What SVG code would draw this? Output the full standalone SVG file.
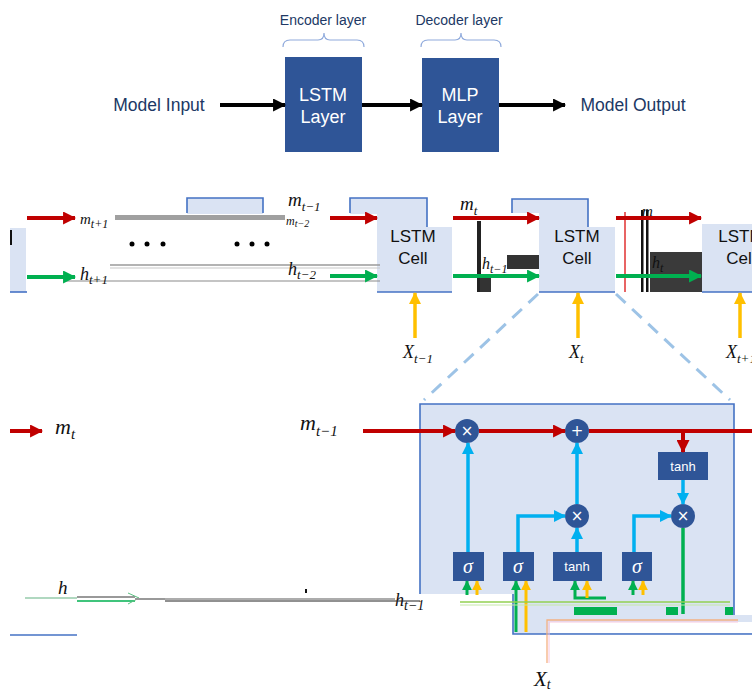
<svg xmlns="http://www.w3.org/2000/svg" width="752" height="690" viewBox="0 0 752 690">
  <defs>
    <style>
      .navy-label { font-family: "Liberation Sans", Arial, sans-serif; fill: #203864; }
      .box-label { font-family: "Liberation Sans", Arial, sans-serif; fill: #ffffff; font-size: 18px; text-anchor: middle; }
      .cell-label { font-family: "Liberation Sans", Arial, sans-serif; fill: #111111; font-size: 17px; text-anchor: middle; }
      .math { font-family: "Liberation Serif", "Times New Roman", serif; font-style: italic; fill: #111111; }
      .sub { font-style: italic; }
      .op { font-family: "DejaVu Sans", sans-serif; fill: #ffffff; font-size: 15px; text-anchor: middle; }
      .gate { font-family: "Liberation Serif", serif; font-style: italic; fill: #ffffff; font-size: 20px; text-anchor: middle; }
      .gate-t { font-family: "Liberation Sans", Arial, sans-serif; fill: #ffffff; font-size: 13px; text-anchor: middle; }
      .navy-box { fill: #2f5597; }
      .cell { fill: #dae3f3; }
      .bracket { fill: none; stroke: #8faadc; stroke-width: 1.2; }
      .blk { stroke: #000000; stroke-width: 4; fill: none; }
      .red { stroke: #c00000; stroke-width: 4; fill: none; }
      .grn { stroke: #00b050; stroke-width: 4; fill: none; }
      .yel { stroke: #ffc000; stroke-width: 3.5; fill: none; }
      .sky { stroke: #00b0f0; stroke-width: 3.5; fill: none; }
      .edge { stroke: #4472c4; stroke-width: 1.6; fill: none; }
      .dash { stroke: #9dc3e6; stroke-width: 3; stroke-dasharray: 13 9; fill: none; }
    </style>
    <marker id="ah-blk" markerUnits="userSpaceOnUse" viewBox="0 0 12 12" refX="11" refY="6" markerWidth="14" markerHeight="13" orient="auto"><path d="M0,0 L12,6 L0,12 z" fill="#000000"/></marker>
    <marker id="ah-red" markerUnits="userSpaceOnUse" viewBox="0 0 12 12" refX="11" refY="6" markerWidth="13" markerHeight="13" orient="auto"><path d="M0,0 L12,6 L0,12 z" fill="#c00000"/></marker>
    <marker id="ah-grn" markerUnits="userSpaceOnUse" viewBox="0 0 12 12" refX="11" refY="6" markerWidth="13" markerHeight="13" orient="auto"><path d="M0,0 L12,6 L0,12 z" fill="#00b050"/></marker>
    <marker id="ah-yel" markerUnits="userSpaceOnUse" viewBox="0 0 12 12" refX="11" refY="6" markerWidth="12" markerHeight="12" orient="auto"><path d="M0,0 L12,6 L0,12 z" fill="#ffc000"/></marker>
    <marker id="ah-sky" markerUnits="userSpaceOnUse" viewBox="0 0 12 12" refX="11" refY="6" markerWidth="12" markerHeight="12" orient="auto"><path d="M0,0 L12,6 L0,12 z" fill="#00b0f0"/></marker>
    <marker id="ah-sgrn" markerUnits="userSpaceOnUse" viewBox="0 0 12 12" refX="11" refY="6" markerWidth="10" markerHeight="10" orient="auto"><path d="M0,0 L12,6 L0,12 z" fill="#00b050"/></marker>
    <marker id="ah-syel" markerUnits="userSpaceOnUse" viewBox="0 0 12 12" refX="11" refY="6" markerWidth="10" markerHeight="10" orient="auto"><path d="M0,0 L12,6 L0,12 z" fill="#ffc000"/></marker>
  </defs>

  <rect width="752" height="690" fill="#ffffff"/>

  <!-- ===== Model overview ===== -->
  <g id="encoder-tag">
    <text class="navy-label" x="323" y="25" font-size="14" text-anchor="middle">Encoder layer</text>
    <path class="bracket" d="M283,47 Q283,40 290,40 H318 Q324,40 324,33 Q324,40 330,40 H357 Q364,40 364,47"/>
  </g>
  <g id="decoder-tag">
    <text class="navy-label" x="459" y="25" font-size="14" text-anchor="middle">Decoder layer</text>
    <path class="bracket" d="M421,47 Q421,40 428,40 H455 Q461,40 461,33 Q461,40 467,40 H494 Q501,40 501,47"/>
  </g>
  <g id="model-input">
    <text class="navy-label" x="159" y="111" font-size="17.5" text-anchor="middle">Model Input</text>
  </g>
  <g id="lstm-layer">
    <rect class="navy-box" x="285" y="57" width="77" height="95"/>
    <text class="box-label" x="323" y="101">LSTM</text>
    <text class="box-label" x="323" y="123">Layer</text>
  </g>
  <g id="mlp-layer">
    <rect class="navy-box" x="422" y="58" width="77" height="94"/>
    <text class="box-label" x="460" y="101">MLP</text>
    <text class="box-label" x="460" y="123">Layer</text>
  </g>
  <g id="model-output">
    <text class="navy-label" x="633" y="111" font-size="17.5" text-anchor="middle">Model Output</text>
  </g>

  <!-- ===== Unrolled chain ===== -->
  <g id="cell-prev2">
    <rect class="cell" x="10" y="228" width="16" height="64"/>
    <line class="edge" x1="10" y1="292" x2="27" y2="292"/>
    <rect x="10" y="230" width="2" height="15" fill="#111"/>
  </g>
  <g id="ghost-box">
    <rect class="cell" x="187" y="198" width="76" height="16"/>
    <path class="edge" d="M187,213 V198 H263 V213"/>
  </g>
  <g id="cell-tm1">
    <rect class="cell" x="350" y="198" width="27" height="16"/>
    <rect class="cell" x="377" y="198" width="50" height="94"/>
    <rect class="cell" x="427" y="227" width="25" height="65"/>
    <path class="edge" d="M350,213 V198 H427 V227"/>
    <line class="edge" x1="377" y1="292" x2="452" y2="292"/>
    <text class="cell-label" x="413" y="242">LSTM</text>
    <text class="cell-label" x="413" y="264">Cell</text>
  </g>
  <g id="cell-t">
    <rect class="cell" x="512" y="199" width="27" height="14"/>
    <rect class="cell" x="539" y="199" width="49" height="93"/>
    <rect class="cell" x="588" y="227" width="27" height="65"/>
    <path class="edge" d="M512,213 V199 H588 V227"/>
    <line class="edge" x1="539" y1="292" x2="615" y2="292"/>
    <text class="cell-label" x="577" y="242">LSTM</text>
    <text class="cell-label" x="577" y="264">Cell</text>
  </g>
  <g id="cell-tp1">
    <rect class="cell" x="702" y="224" width="50" height="68"/>
    <line class="edge" x1="702" y1="292" x2="752" y2="292"/>
    <text class="cell-label" x="741" y="242">LSTM</text>
    <text class="cell-label" x="741" y="264">Cell</text>
  </g>

  <!-- cluttered strokes between the chain cells -->
  <g id="chain-clutter">
    <rect x="115" y="215" width="170" height="5" fill="#a0a0a0"/>
    <line x1="110" y1="265" x2="380" y2="265" stroke="#9a9a9a" stroke-width="1.5"/>
    <line x1="110" y1="268" x2="380" y2="268" stroke="#c8c8c8" stroke-width="1.2"/>
    <line x1="65" y1="281" x2="380" y2="281" stroke="#8a8a8a" stroke-width="1.2"/>
    <rect x="477" y="221" width="4" height="71" fill="#222"/>
    <rect x="480" y="277" width="11" height="15" fill="#333"/>
    <rect x="507" y="255" width="32" height="14" fill="#333"/>
    <line x1="625" y1="212" x2="625" y2="292" stroke="#e03030" stroke-width="1.5"/>
    <rect x="641" y="210" width="2.5" height="82" fill="#111"/>
    <rect x="646" y="210" width="2.5" height="82" fill="#111"/>
    <rect x="650" y="252" width="52" height="40" fill="#3a3a3a"/>
  </g>

  <g id="ellipsis">
    <circle cx="132" cy="244" r="2.5" fill="#000"/>
    <circle cx="147" cy="244" r="2.5" fill="#000"/>
    <circle cx="163" cy="244" r="2.5" fill="#000"/>
    <circle cx="237" cy="244" r="2.5" fill="#000"/>
    <circle cx="252" cy="244" r="2.5" fill="#000"/>
    <circle cx="267" cy="244" r="2.5" fill="#000"/>
  </g>

  <!-- ===== Connectors ===== -->
  <g id="connectors">
    <!-- overview -->
    <line class="blk" x1="220" y1="105" x2="285" y2="105" marker-end="url(#ah-blk)"/>
    <line class="blk" x1="362" y1="105" x2="422" y2="105" marker-end="url(#ah-blk)"/>
    <line class="blk" x1="499" y1="105" x2="565" y2="105" marker-end="url(#ah-blk)"/>

    <!-- cell state path -->
    <line class="red" x1="27" y1="218" x2="75" y2="218" marker-end="url(#ah-red)"/>
    <line class="red" x1="330" y1="218" x2="377" y2="218" marker-end="url(#ah-red)"/>
    <line class="red" x1="453" y1="218" x2="539" y2="218" marker-end="url(#ah-red)"/>
    <line class="red" x1="616" y1="218" x2="701" y2="218" marker-end="url(#ah-red)"/>

    <!-- hidden state path -->
    <line class="grn" x1="27" y1="277" x2="75" y2="277" marker-end="url(#ah-grn)"/>
    <line class="grn" x1="330" y1="276" x2="377" y2="276" marker-end="url(#ah-grn)"/>
    <line class="grn" x1="453" y1="276" x2="539" y2="276" marker-end="url(#ah-grn)"/>
    <line class="grn" x1="616" y1="276" x2="701" y2="276" marker-end="url(#ah-grn)"/>

    <!-- inputs -->
    <line class="yel" x1="415" y1="338" x2="415" y2="293" marker-end="url(#ah-yel)"/>
    <line class="yel" x1="578" y1="338" x2="578" y2="293" marker-end="url(#ah-yel)"/>
    <line class="yel" x1="740" y1="338" x2="740" y2="293" marker-end="url(#ah-yel)"/>

    <!-- zoom guides -->
    <line class="dash" x1="538" y1="294" x2="424" y2="400"/>
    <line class="dash" x1="616" y1="294" x2="730" y2="400"/>
  </g>

  <g id="chain-labels">
    <text class="math" x="80" y="224" font-size="15">m<tspan class="sub" font-size="12" dy="4">t+1</tspan></text>
    <text class="math" x="80" y="280" font-size="18">h<tspan class="sub" font-size="13" dy="4">t+1</tspan></text>
    <text class="math" x="288" y="206" font-size="19">m<tspan class="sub" font-size="13" dy="5">t−1</tspan></text>
    <text class="math" x="286" y="225" font-size="12" fill="#666">m<tspan class="sub" font-size="10" dy="2">t−2</tspan></text>
    <text class="math" x="288" y="275" font-size="18">h<tspan class="sub" font-size="13" dy="4">t−2</tspan></text>
    <text class="math" x="460" y="210" font-size="19">m<tspan class="sub" font-size="13" dy="5">t</tspan></text>
    <text class="math" x="482" y="269" font-size="16">h<tspan class="sub" font-size="12" dy="4">t−1</tspan></text>
    <text class="math" x="642" y="216" font-size="15">m</text>
    <text class="math" x="652" y="268" font-size="16" fill="#eeeeee">h<tspan class="sub" font-size="12" dy="4">t</tspan></text>
    <text class="math" x="403" y="358" font-size="18">X<tspan class="sub" font-size="13" dy="5">t−1</tspan></text>
    <text class="math" x="569" y="358" font-size="18">X<tspan class="sub" font-size="13" dy="5">t</tspan></text>
    <text class="math" x="726" y="358" font-size="18">X<tspan class="sub" font-size="13" dy="5">t+1</tspan></text>
  </g>

  <!-- ===== Inside the LSTM cell ===== -->
  <g id="cell-detail">
    <path class="cell" d="M420,404 H734 V615 H752 V634 H513 V594 H420 Z"/>
    <rect x="550" y="622" width="202" height="11" fill="#ffffff"/>
    <path class="edge" d="M420,594 V404 H734 V615"/>
    <path class="edge" d="M513,594 V634 H752"/>
  </g>

  <g id="left-labels">
    <line class="red" x1="10" y1="431" x2="42" y2="431" marker-end="url(#ah-red)"/>
    <text class="math" x="55" y="434" font-size="22">m<tspan class="sub" font-size="15" dy="5">t</tspan></text>
    <text class="math" x="300" y="430" font-size="22">m<tspan class="sub" font-size="15" dy="6">t−1</tspan></text>
    <text class="math" x="58" y="594" font-size="19">h</text>
    <text class="math" x="395" y="606" font-size="18">h<tspan class="sub" font-size="14" dy="4">t−1</tspan></text>
    <line x1="25" y1="598" x2="77" y2="598" stroke="#b0d8c0" stroke-width="2"/>
    <line x1="77" y1="597" x2="135" y2="597" stroke="#999" stroke-width="2"/>
    <line x1="77" y1="601" x2="135" y2="601" stroke="#00b050" stroke-width="1.5"/>
    <path d="M128,593 L139,598 L128,604" fill="none" stroke="#5ac080" stroke-width="1"/>
    <line x1="135" y1="599" x2="165" y2="599" stroke="#999" stroke-width="2"/>
    <line x1="165" y1="599" x2="395" y2="599" stroke="#909090" stroke-width="1.3"/>
    <line x1="165" y1="601" x2="420" y2="601" stroke="#222" stroke-width="1"/>
    <rect x="305" y="589" width="2" height="4" fill="#111"/>
    <line x1="10" y1="635" x2="77" y2="635" stroke="#4472c4" stroke-width="1.6"/>
  </g>

  <g id="gate-forget">
    <rect class="navy-box" x="453" y="552" width="31" height="29"/>
    <text class="gate" x="468" y="573">σ</text>
  </g>
  <g id="gate-input">
    <rect class="navy-box" x="503" y="552" width="31" height="29"/>
    <text class="gate" x="518" y="573">σ</text>
  </g>
  <g id="gate-candidate">
    <rect class="navy-box" x="553" y="552" width="49" height="29"/>
    <text class="gate-t" x="577" y="571">tanh</text>
  </g>
  <g id="gate-output">
    <rect class="navy-box" x="622" y="552" width="30" height="29"/>
    <text class="gate" x="637" y="573">σ</text>
  </g>
  <g id="tanh-cell">
    <rect class="navy-box" x="658" y="452" width="50" height="28"/>
    <text class="gate-t" x="683" y="471">tanh</text>
  </g>
  <g id="op-forget">
    <circle class="navy-box" cx="467" cy="431" r="12"/>
    <text class="op" x="467" y="436">×</text>
  </g>
  <g id="op-add">
    <circle class="navy-box" cx="577" cy="431" r="12"/>
    <text class="op" x="577" y="436">+</text>
  </g>
  <g id="op-input">
    <circle class="navy-box" cx="577" cy="516" r="12"/>
    <text class="op" x="577" y="521">×</text>
  </g>
  <g id="op-output">
    <circle class="navy-box" cx="683" cy="516" r="12"/>
    <text class="op" x="683" y="521">×</text>
  </g>

  <g id="cell-connectors">
    <!-- cell state -->
    <line class="red" x1="363" y1="431" x2="455" y2="431" marker-end="url(#ah-red)"/>
    <line class="red" x1="479" y1="431" x2="565" y2="431" marker-end="url(#ah-red)"/>
    <line class="red" x1="589" y1="431" x2="752" y2="431"/>
    <line class="red" x1="683" y1="431" x2="683" y2="452" marker-end="url(#ah-red)"/>

    <!-- gate outputs -->
    <line class="sky" x1="468" y1="552" x2="468" y2="443" marker-end="url(#ah-sky)"/>
    <polyline class="sky" points="518,552 518,516 565,516" marker-end="url(#ah-sky)"/>
    <line class="sky" x1="577" y1="552" x2="577" y2="528" marker-end="url(#ah-sky)"/>
    <line class="sky" x1="577" y1="504" x2="577" y2="443" marker-end="url(#ah-sky)"/>
    <polyline class="sky" points="634,552 634,516 671,516" marker-end="url(#ah-sky)"/>
    <line class="sky" x1="683" y1="480" x2="683" y2="504" marker-end="url(#ah-sky)"/>
    <line x1="683" y1="528" x2="683" y2="614" stroke="#00b050" stroke-width="3.5"/>

    <!-- gate inputs -->
    <line x1="467" y1="595" x2="467" y2="581" stroke="#00b050" stroke-width="3" marker-end="url(#ah-sgrn)"/>
    <line x1="477" y1="595" x2="477" y2="581" stroke="#ffc000" stroke-width="3" marker-end="url(#ah-syel)"/>
    <line x1="516" y1="632" x2="516" y2="581" stroke="#00b050" stroke-width="3" marker-end="url(#ah-sgrn)"/>
    <line x1="526" y1="632" x2="526" y2="581" stroke="#ffc000" stroke-width="3" marker-end="url(#ah-syel)"/>
    <polyline points="606,598 575,598 575,581" fill="none" stroke="#00b050" stroke-width="3" marker-end="url(#ah-sgrn)"/>
    <line x1="587" y1="598" x2="587" y2="581" stroke="#ffc000" stroke-width="3" marker-end="url(#ah-syel)"/>
    <line x1="633" y1="595" x2="633" y2="581" stroke="#00b050" stroke-width="3" marker-end="url(#ah-sgrn)"/>
    <line x1="643" y1="595" x2="643" y2="581" stroke="#ffc000" stroke-width="3" marker-end="url(#ah-syel)"/>

    <!-- feed lines along the bottom -->
    <line x1="460" y1="602" x2="730" y2="602" stroke="#92d050" stroke-width="1.3"/>
    <line x1="460" y1="605" x2="730" y2="605" stroke="#c5e8a8" stroke-width="1"/>
    <rect x="574" y="607" width="43" height="8" fill="#00b050"/>
    <rect x="666" y="607" width="12" height="8" fill="#00b050"/>
    <rect x="725" y="607" width="8" height="8" fill="#00b050"/>
    <path d="M547,663 V620 H738" fill="none" stroke="#f4b183" stroke-width="1.3"/>
    <path d="M549,663 V622 H738" fill="none" stroke="#f8c8e0" stroke-width="1"/>
  </g>

  <text class="math" x="534" y="686" font-size="21">X<tspan class="sub" font-size="14" dy="3">t</tspan></text>
</svg>
